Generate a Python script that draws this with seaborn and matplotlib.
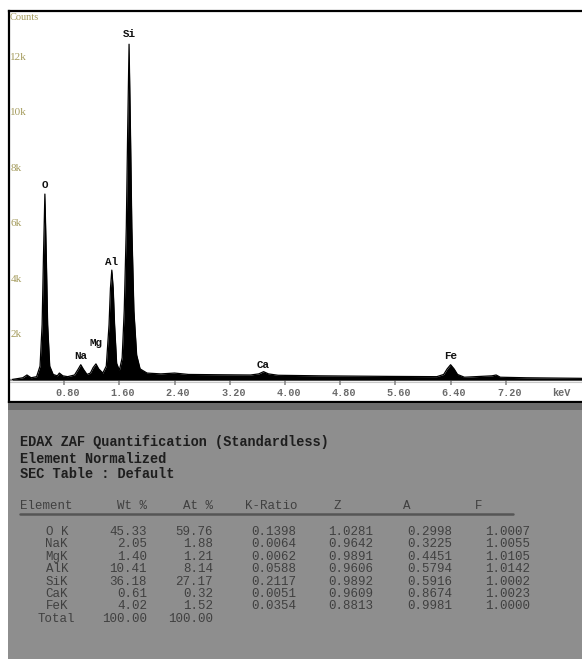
import matplotlib
matplotlib.use("Agg")
import matplotlib.pyplot as plt
import seaborn as sns
import numpy as np
import pandas as pd
from matplotlib.patches import Rectangle

# ---- spectrum outline (energy in keV, counts in thousands) ----
energy_kev = [0.05, 0.20, 0.26, 0.32, 0.40, 0.45, 0.48, 0.50, 0.52, 0.54, 0.56, 0.59,
              0.64, 0.70, 0.73, 0.78, 0.85, 0.95, 1.00, 1.04, 1.08, 1.13, 1.18, 1.22,
              1.26, 1.30, 1.36, 1.41, 1.45, 1.47, 1.49, 1.51, 1.53, 1.56, 1.60, 1.64,
              1.67, 1.70, 1.72, 1.74, 1.76, 1.78, 1.81, 1.85, 1.90, 2.00, 2.20, 2.40,
              2.60, 3.00, 3.50, 3.62, 3.69, 3.76, 3.90, 4.50, 5.50, 6.20, 6.30, 6.35,
              6.40, 6.45, 6.50, 6.60, 7.00, 7.06, 7.12, 7.50, 8.30]
counts_k = [0.02, 0.08, 0.18, 0.08, 0.12, 0.50, 2.00, 4.50, 6.70, 4.50, 2.00, 0.50,
            0.20, 0.15, 0.25, 0.15, 0.12, 0.18, 0.38, 0.55, 0.38, 0.20, 0.25, 0.45,
            0.58, 0.40, 0.25, 0.50, 2.00, 3.30, 3.96, 3.30, 2.00, 0.60, 0.35, 0.80,
            2.50, 5.50, 9.00, 12.10, 9.00, 5.50, 2.50, 0.90, 0.40, 0.25, 0.22, 0.25,
            0.20, 0.19, 0.18, 0.22, 0.30, 0.22, 0.17, 0.15, 0.13, 0.12, 0.20, 0.40,
            0.55, 0.40, 0.20, 0.10, 0.15, 0.18, 0.10, 0.08, 0.06]

peak_names = ["O", "Na", "Mg", "Al", "Si", "Ca", "Fe"]
peak_kev = [0.52, 1.04, 1.26, 1.49, 1.74, 3.69, 6.40]
peak_counts_k = [6.70, 0.55, 0.58, 3.96, 12.10, 0.30, 0.55]
label_lift_k = [0.15, 0.13, 0.57, 0.10, 0.20, 0.05, 0.12]

x_ticks = [0.80, 1.60, 2.40, 3.20, 4.00, 4.80, 5.60, 6.40, 7.20]
y_ticks = [2, 4, 6, 8, 10, 12]

# ---- quantification table ----
elements = ["O K", "NaK", "MgK", "AlK", "SiK", "CaK", "FeK"]
wt_pct = [45.33, 2.05, 1.40, 10.41, 36.18, 0.61, 4.02]
at_pct = [59.76, 1.88, 1.21, 8.14, 27.17, 0.32, 1.52]
k_ratio = [0.1398, 0.0064, 0.0062, 0.0588, 0.2117, 0.0051, 0.0354]
z_corr = [1.0281, 0.9642, 0.9891, 0.9606, 0.9892, 0.9609, 0.8813]
a_corr = [0.2998, 0.3225, 0.4451, 0.5794, 0.5916, 0.8674, 0.9981]
f_corr = [1.0007, 1.0055, 1.0105, 1.0142, 1.0002, 1.0023, 1.0000]
totals = [100.00, 100.00]

W, H = 582, 659
sns.set_theme(style="white")
plt.rcParams["font.family"] = ["Liberation Mono", "DejaVu Sans Mono"]

fig = plt.figure(figsize=(W / 100, H / 100), dpi=100)
fig.patch.set_facecolor("white")


def fx(px):
    return px / W


def fy(py):
    return 1 - py / H


# grey report panel under the spectrum
fig.patches.append(Rectangle((fx(8), 0), 1 - fx(8), fy(403), transform=fig.transFigure,
                             facecolor="#8e8e8e", edgecolor="none", zorder=0))
fig.patches.append(Rectangle((fx(8), fy(410)), 1 - fx(8), fy(403) - fy(410),
                             transform=fig.transFigure, facecolor="#6c6c6c",
                             edgecolor="none", zorder=0))

# spectrum axes
ax_top, ax_bot = 11, 402
ax = fig.add_axes([fx(9), fy(ax_bot), 1 - fx(9), fy(ax_top) - fy(ax_bot)])
px_per_k = 27.75
base = 380
ax.set_ylim(-(ax_bot - base) / px_per_k, (base - ax_top) / px_per_k)
ax.set_xlim(0, (W - 9) / 69.0)
ax.set_facecolor("white")

spec = pd.DataFrame({"keV": energy_kev, "counts": counts_k})
ax.axhline(0, color="#9a9a9a", lw=1.6, zorder=1)
ax.axhline(-0.09, color="#c8c8c8", lw=0.8, zorder=1)
ax.vlines(x_ticks, -0.18, 0, color="#8a8a8a", lw=1.2, zorder=1)
ax.fill_between(spec["keV"], 0, spec["counts"], color="black", lw=0, zorder=2)
sns.lineplot(data=spec, x="keV", y="counts", ax=ax, color="black", lw=0.9,
             zorder=3, legend=False)

for name, e, c, lift in zip(peak_names, peak_kev, peak_counts_k, label_lift_k):
    ax.text(e, c + lift, name, ha="center", va="bottom", fontsize=7.8,
            fontweight="bold", color="#111111")

for t in x_ticks:
    ax.text(t + 0.05, -0.48, f"{t:.2f}", ha="center", va="center", fontsize=7.3,
            color="#6a6a6a", fontweight="bold")
ax.text(8.0, -0.48, "keV", ha="center", va="center", fontsize=7.3,
        color="#6a6a6a", fontweight="bold")

for t in y_ticks:
    ax.text(0.02, t - 0.37, f"{t}k", ha="left", va="center", fontsize=8,
            color="#a59c5e", family=["Liberation Serif", "DejaVu Serif"])
ax.text(0.01, 13.05, "Counts", ha="left", va="center", fontsize=7.5,
        color="#a59c5e", family=["Liberation Serif", "DejaVu Serif"])

ax.set_xticks([])
ax.set_yticks([])
ax.set_xlabel("")
ax.set_ylabel("")
for side in ["left", "top", "bottom"]:
    ax.spines[side].set_visible(True)
    ax.spines[side].set_color("black")
    ax.spines[side].set_linewidth(1.6)
ax.spines["right"].set_visible(False)

# ---- report text ----
head_kw = dict(fontsize=9.8, fontweight="bold", color="#1e1e1e", va="center", ha="left")
fig.text(fx(20), fy(442), "EDAX ZAF Quantification (Standardless)", **head_kw)
fig.text(fx(20), fy(459), "Element Normalized", **head_kw)
fig.text(fx(20), fy(474), "SEC Table : Default", **head_kw)

txt = dict(fontsize=9.0, color="#404040", va="center")
hy = 506
fig.text(fx(20), fy(hy), "Element", ha="left", **txt)
fig.text(fx(147), fy(hy), "Wt %", ha="right", **txt)
fig.text(fx(213), fy(hy), "At %", ha="right", **txt)
fig.text(fx(297), fy(hy), "K-Ratio", ha="right", **txt)
fig.text(fx(337), fy(hy), "Z", ha="center", **txt)
fig.text(fx(407), fy(hy), "A", ha="center", **txt)
fig.text(fx(479), fy(hy), "F", ha="center", **txt)
fig.lines.append(plt.Line2D([fx(20), fx(513)], [fy(514), fy(514)],
                            transform=fig.transFigure, color="#555555", lw=1.8))

row0, dy = 532, 12.4
for i, el in enumerate(elements):
    y = fy(row0 + i * dy)
    fig.text(fx(68), y, el, ha="right", **txt)
    fig.text(fx(147), y, f"{wt_pct[i]:.2f}", ha="right", **txt)
    fig.text(fx(213), y, f"{at_pct[i]:.2f}", ha="right", **txt)
    fig.text(fx(296), y, f"{k_ratio[i]:.4f}", ha="right", **txt)
    fig.text(fx(373), y, f"{z_corr[i]:.4f}", ha="right", **txt)
    fig.text(fx(452), y, f"{a_corr[i]:.4f}", ha="right", **txt)
    fig.text(fx(530), y, f"{f_corr[i]:.4f}", ha="right", **txt)
y = fy(row0 + len(elements) * dy)
fig.text(fx(75), y, "Total", ha="right", **txt)
fig.text(fx(147), y, f"{totals[0]:.2f}", ha="right", **txt)
fig.text(fx(213), y, f"{totals[1]:.2f}", ha="right", **txt)

fig.savefig("out.png", dpi=100, facecolor="white")
